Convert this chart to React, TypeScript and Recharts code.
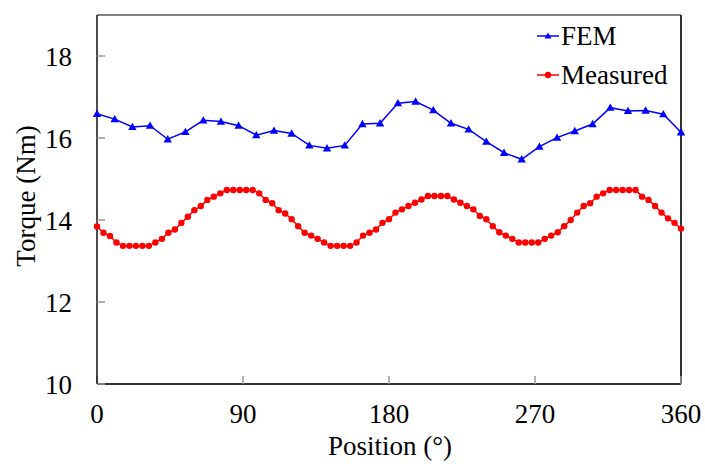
import { LineChart, Line, XAxis, YAxis, ReferenceLine } from 'recharts';

// FEM torque, one sample every 360/33 degrees
const femPositions = [
  0, 10.9, 21.8, 32.7, 43.6, 54.5, 65.5, 76.4, 87.3, 98.2, 109.1, 120, 130.9, 141.8, 152.7, 163.6, 174.5,
  185.5, 196.4, 207.3, 218.2, 229.1, 240, 250.9, 261.8, 272.7, 283.6, 294.5, 305.5, 316.4, 327.3, 338.2, 349.1, 360,
];
const femTorque = [
  16.59, 16.46, 16.27, 16.3, 15.97, 16.15, 16.43, 16.4, 16.3, 16.07, 16.18, 16.11, 15.82, 15.75, 15.82, 16.34, 16.36,
  16.85, 16.89, 16.68, 16.36, 16.21, 15.91, 15.64, 15.48, 15.79, 16.01, 16.17, 16.34, 16.74, 16.66, 16.67, 16.58, 16.14,
];

// measured torque, one sample every 4 degrees
const measuredPositions = [
  0, 4, 8, 12, 16, 20, 24, 28, 32, 36, 40, 44, 48, 52, 56, 60, 64, 68, 72, 76, 80, 84, 88, 92, 96, 100,
  104, 108, 112, 116, 120, 124, 128, 132, 136, 140, 144, 148, 152, 156, 160, 164, 168, 172, 176, 180,
  184, 188, 192, 196, 200, 204, 208, 212, 216, 220, 224, 228, 232, 236, 240, 244, 248, 252, 256, 260,
  264, 268, 272, 276, 280, 284, 288, 292, 296, 300, 304, 308, 312, 316, 320, 324, 328, 332, 336, 340,
  344, 348, 352, 356, 360,
];
const measuredTorque = [
  13.84, 13.69, 13.61, 13.45, 13.37, 13.37, 13.37, 13.37, 13.37, 13.45, 13.54, 13.69, 13.77, 13.93, 14.08,
  14.24, 14.34, 14.49, 14.57, 14.65, 14.73, 14.73, 14.73, 14.73, 14.73, 14.65, 14.49, 14.41, 14.24, 14.16,
  14.02, 13.85, 13.69, 13.62, 13.54, 13.45, 13.37, 13.37, 13.37, 13.37, 13.45, 13.62, 13.69, 13.77, 13.93,
  14.02, 14.18, 14.26, 14.34, 14.42, 14.5, 14.585, 14.585, 14.585, 14.585, 14.5, 14.42, 14.34, 14.26, 14.1,
  14.02, 13.85, 13.7, 13.62, 13.54, 13.45, 13.45, 13.45, 13.45, 13.54, 13.62, 13.7, 13.85, 14.0, 14.18,
  14.34, 14.41, 14.57, 14.65, 14.73, 14.73, 14.73, 14.73, 14.73, 14.57, 14.49, 14.34, 14.18, 14.04, 13.93,
  13.79,
];

const xTicks = [0, 90, 180, 270, 360];
const yTicks = [10, 12, 14, 16, 18];

const femData = femPositions.map((pos, i) => ({ pos, torque: femTorque[i] }));
const measuredData = measuredPositions.map((pos, i) => ({ pos, torque: measuredTorque[i] }));

const FONT = "'Liberation Serif', 'Times New Roman', serif";
const BLUE = '#0000ff';
const RED = '#ff0000';
const tickStyle = { fontSize: 27, fill: '#000', fontFamily: FONT };

function TriangleDot(props: any) {
  const { cx, cy, index } = props;
  if (cx == null || cy == null) return <g key={`t-${index}`} />;
  const s = 4.2;
  return (
    <path
      key={`t-${index}`}
      d={`M${cx},${cy - s} L${cx + s},${cy + s * 0.75} L${cx - s},${cy + s * 0.75} Z`}
      fill={BLUE}
    />
  );
}

function LegendRow({ top, label, color, marker }: { top: number; label: string; color: string; marker: 'tri' | 'dot' }) {
  return (
    <div style={{ position: 'absolute', left: 537, top: top - 16, height: 32, display: 'flex', alignItems: 'center' }}>
      <svg width={22} height={12} style={{ marginRight: 2 }}>
        <line x1={0} y1={6} x2={22} y2={6} stroke={color} strokeWidth={1.5} />
        {marker === 'tri' ? <path d="M11,2.5 L14.5,8.5 L7.5,8.5 Z" fill={color} /> : <circle cx={11} cy={6} r={3.2} fill={color} />}
      </svg>
      <span style={{ fontSize: 27, fontFamily: FONT, color: '#000', lineHeight: '32px' }}>{label}</span>
    </div>
  );
}

export default function App() {
  return (
    <div style={{ position: 'absolute', left: 0, top: 0, width: 705, height: 464, background: '#fff', fontFamily: FONT }}>
      <LineChart width={705} height={464} margin={{ top: 15, right: 24, bottom: 0, left: 0 }} style={{ fontFamily: FONT }}>
        <XAxis
          dataKey="pos"
          type="number"
          domain={[0, 360]}
          ticks={xTicks}
          height={80}
          tick={tickStyle}
          tickSize={-8}
          tickMargin={28}
          axisLine={{ stroke: '#333', strokeWidth: 2 }}
          tickLine={{ stroke: '#999', strokeWidth: 1.5 }}
        />
        <YAxis
          type="number"
          domain={[10, 19]}
          ticks={yTicks}
          width={97}
          tick={tickStyle}
          tickSize={-8}
          tickMargin={33}
          axisLine={{ stroke: '#111', strokeWidth: 1.5 }}
          tickLine={{ stroke: '#999', strokeWidth: 1.5 }}
        />
        <ReferenceLine y={19} stroke="#555" strokeWidth={1.5} />
        <ReferenceLine x={360} stroke="#333" strokeWidth={2} />
        <Line
          data={femData}
          dataKey="torque"
          stroke={BLUE}
          strokeWidth={1.5}
          dot={TriangleDot}
          activeDot={false}
          isAnimationActive={false}
        />
        <Line
          data={measuredData}
          dataKey="torque"
          stroke={RED}
          strokeWidth={1.5}
          dot={{ r: 3.2, fill: RED, stroke: 'none' }}
          activeDot={false}
          isAnimationActive={false}
        />
      </LineChart>
      <div
        style={{
          position: 'absolute', left: 26, top: 196, transform: 'translate(-50%, -50%) rotate(-90deg)',
          fontSize: 27, whiteSpace: 'nowrap', color: '#000',
        }}
      >
        Torque (Nm)
      </div>
      <div
        style={{
          position: 'absolute', left: 390, top: 446, transform: 'translate(-50%, -50%)',
          fontSize: 27, whiteSpace: 'nowrap', color: '#000', lineHeight: '28px',
        }}
      >
        Position (°)
      </div>
      <LegendRow top={36} label="FEM" color={BLUE} marker="tri" />
      <LegendRow top={75} label="Measured" color={RED} marker="dot" />
    </div>
  );
}
